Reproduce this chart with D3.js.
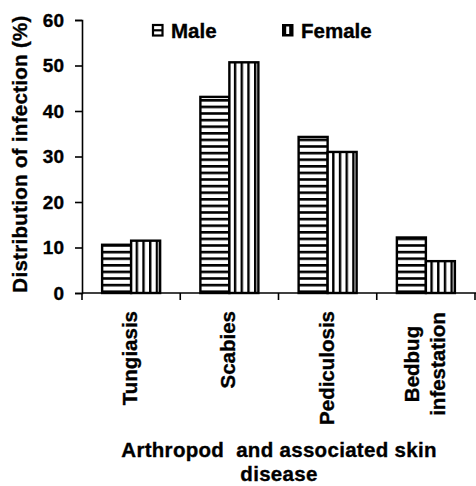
<!DOCTYPE html>
<html>
<head>
<meta charset="utf-8">
<script src="https://cdn.jsdelivr.net/npm/d3@7"></script>
<style>
  html, body { margin: 0; padding: 0; background: #fff; }
  svg { display: block; }
  text { font-family: "Liberation Sans", Arial, sans-serif; font-weight: bold; fill: #000; stroke: #000; stroke-width: 0.35px; }
</style>
</head>
<body>
<svg id="chart" width="476" height="486"></svg>
<script>
// ---- data ----
const categories = ["Tungiasis", "Scabies", "Pediculosis", "Bedbug infestation"];
const categoryLines = [["Tungiasis"], ["Scabies"], ["Pediculosis"], ["Bedbug", "infestation"]];
const seriesNames = ["Male", "Female"];
const maleValues = [10.6, 43.1, 34.3, 12.2];
const femaleValues = [11.5, 50.7, 31.0, 7.0];
const yTicks = [0, 10, 20, 30, 40, 50, 60];
const yTitle = "Distribution of infection (%)";
const xTitleLines = ["Arthropod  and associated skin", "disease"];

const FS = "20.5px";
const svg = d3.select("#chart");
const defs = svg.append("defs");

// patterns
const hp = defs.append("pattern").attr("id", "hstripe").attr("patternUnits", "userSpaceOnUse")
  .attr("width", 8).attr("height", 6.6);
hp.append("rect").attr("width", 8).attr("height", 6.6).attr("fill", "#fff");
hp.append("rect").attr("y", 0).attr("width", 8).attr("height", 2.6).attr("fill", "#000");

const vp = defs.append("pattern").attr("id", "vstripe").attr("patternUnits", "userSpaceOnUse")
  .attr("width", 6.7).attr("height", 8);
vp.append("rect").attr("width", 6.7).attr("height", 8).attr("fill", "#fff");
vp.append("rect").attr("x", 0).attr("width", 2.4).attr("height", 8).attr("fill", "#000");

const fills = ["url(#hstripe)", "url(#vstripe)"];

// scales
const x = d3.scaleBand().domain(categories).range([82, 475]).padding(0);
const y = d3.scaleLinear().domain([0, 60]).range([293, 20]);
const barW = 29;
const inner = d3.scaleBand().domain(seriesNames).range([0, barW * 2]);

const data = categories.map((c, i) => ({ cat: c, vals: [maleValues[i], femaleValues[i]] }));

// bars
const groups = svg.append("g").selectAll("g").data(data).join("g")
  .attr("transform", d => `translate(${x(d.cat) + x.bandwidth() / 2 - barW},0)`);
groups.selectAll("rect").data(d => d.vals.map((v, j) => ({ v, j })))
  .join("rect")
  .attr("x", d => inner(seriesNames[d.j]))
  .attr("y", d => y(d.v))
  .attr("width", inner.bandwidth())
  .attr("height", d => y(0) - y(d.v))
  .attr("fill", d => fills[d.j])
  .attr("stroke", "#000")
  .attr("stroke-width", 2.4);

// y axis
const yAxis = svg.append("g").attr("transform", "translate(82,0)")
  .call(d3.axisLeft(y).tickValues(yTicks).tickSize(7).tickPadding(11).tickFormat(d3.format("d")));
yAxis.select(".domain").attr("stroke", "#000").attr("stroke-width", 1.6);
yAxis.selectAll(".tick line").attr("stroke", "#000").attr("stroke-width", 1.6);
yAxis.selectAll(".tick text").style("font-size", "19px").style("font-family", "Liberation Sans, Arial, sans-serif")
  .style("font-weight", "bold").attr("fill", "#000");

// x axis line + boundary ticks
const xAxisG = svg.append("g");
xAxisG.append("line").attr("x1", 82).attr("x2", 476).attr("y1", y(0)).attr("y2", y(0))
  .attr("stroke", "#000").attr("stroke-width", 1.6);
const bounds = categories.map(c => x(c)).concat([x.range()[1]]);
xAxisG.selectAll("line.tk").data(bounds).join("line").attr("class", "tk")
  .attr("x1", d => d).attr("x2", d => d).attr("y1", y(0)).attr("y2", y(0) + 7)
  .attr("stroke", "#000").attr("stroke-width", 1.6);

// x category labels (rotated)
const labelG = svg.append("g");
categoryLines.forEach((lines, i) => {
  const cx = x(categories[i]) + x.bandwidth() / 2;
  if (lines.length === 1) {
    labelG.append("text")
      .attr("transform", `translate(${cx + 6},311) rotate(-90)`)
      .attr("text-anchor", "end")
      .style("font-size", FS)
      .text(lines[0]);
  } else {
    const lh = 26;
    lines.forEach((ln, k) => {
      const off = (k - (lines.length - 1) / 2) * lh;
      labelG.append("text")
        .attr("transform", `translate(${cx + 6 + off},364) rotate(-90)`)
        .attr("text-anchor", "middle")
        .style("font-size", FS)
        .text(ln);
    });
  }
});

// y title
svg.append("text")
  .attr("transform", "translate(27,154) rotate(-90)")
  .attr("text-anchor", "middle")
  .style("font-size", FS).style("letter-spacing", "0.3px")
  .text(yTitle);

// x title
xTitleLines.forEach((ln, k) => {
  svg.append("text")
    .attr("x", 279).attr("y", 457 + k * 24)
    .attr("text-anchor", "middle")
    .attr("xml:space", "preserve")
    .style("white-space", "pre")
    .style("font-size", FS).style("letter-spacing", "0.3px")
    .text(ln);
});

// legend
const legendX = [152, 282];
const legendG = svg.append("g");
seriesNames.forEach((s, i) => {
  const lx = legendX[i];
  if (i === 0) {
    legendG.append("rect").attr("x", lx + 1).attr("y", 25).attr("width", 9.5).attr("height", 10.5)
      .attr("fill", "#fff").attr("stroke", "#000").attr("stroke-width", 2.2);
    legendG.append("rect").attr("x", lx + 1).attr("y", 29.2).attr("width", 9.5).attr("height", 2.2)
      .attr("fill", "#000");
  } else {
    legendG.append("rect").attr("x", lx).attr("y", 24).attr("width", 11.5).attr("height", 12.5)
      .attr("fill", "#000");
    legendG.append("rect").attr("x", lx + 4.2).attr("y", 26.5).attr("width", 3).attr("height", 7.5)
      .attr("fill", "#fff");
  }
  legendG.append("text").attr("x", lx + 19).attr("y", 37.5)
    .style("font-size", FS)
    .text(s);
});
</script>
</body>
</html>
